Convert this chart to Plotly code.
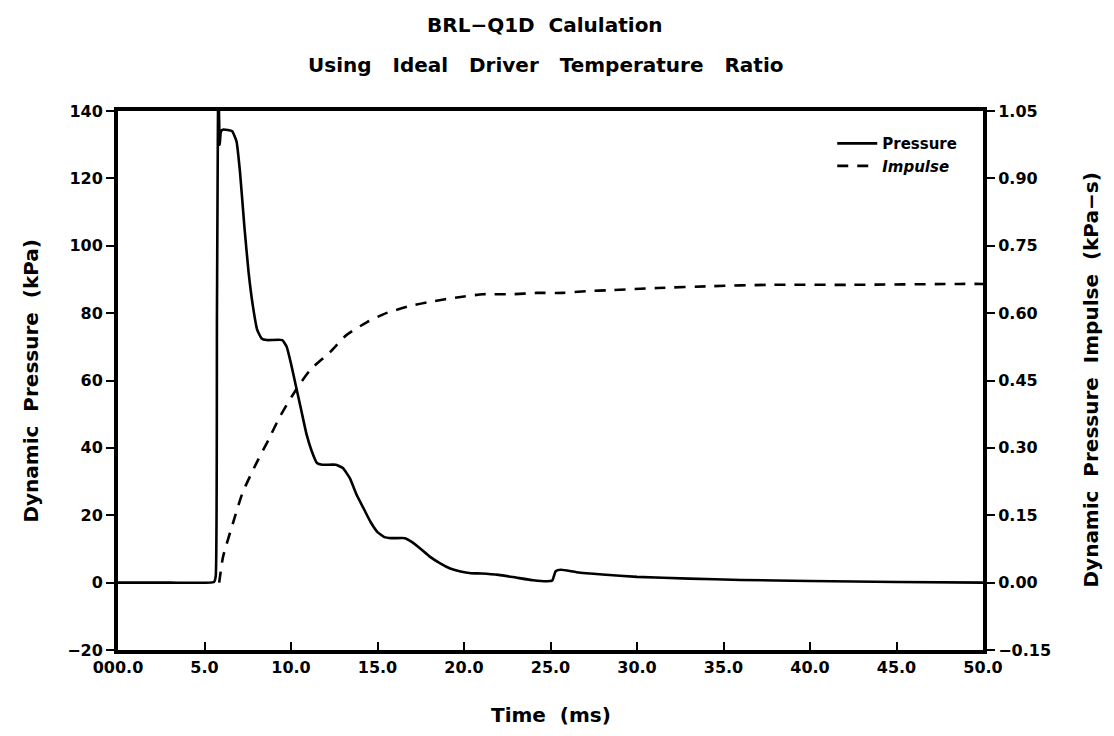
import plotly.graph_objects as go

# Dynamic pressure history (kPa) vs time (ms)
time_p = [0.0, 3.0, 5.55, 5.65, 5.72, 5.8, 5.88, 5.95, 6.1, 6.6, 6.85, 7.05, 7.3, 7.55,
          7.8, 8.05, 8.3, 8.6, 9.5, 9.75, 10.0, 10.3, 10.6, 10.9, 11.2, 11.5, 11.8,
          12.6, 13.0, 13.4, 13.8, 14.2, 14.6, 15.0, 15.4, 15.8, 16.6, 17.0, 17.5,
          18.0, 18.6, 19.2, 19.8, 20.4, 21.0, 22.0, 23.0, 24.0, 24.8, 25.1, 25.3,
          25.6, 26.5, 28.0, 30.0, 33.0, 36.0, 40.0, 45.0, 50.0]
pressure = [0.0, 0.0, 0.2, 2.0, 80.0, 150.0, 130.0, 134.0, 134.5, 134.0, 131.0, 122.0,
            106.0, 92.0, 82.0, 75.0, 72.5, 72.0, 72.0, 70.0, 65.0, 58.0, 51.0, 44.0,
            39.0, 35.5, 35.0, 35.0, 34.0, 31.0, 26.0, 22.0, 18.0, 15.0, 13.5, 13.2,
            13.2, 12.0, 10.0, 7.8, 5.8, 4.2, 3.3, 2.8, 2.7, 2.3, 1.5, 0.7, 0.4, 0.6,
            3.4, 3.8, 3.1, 2.4, 1.7, 1.2, 0.8, 0.5, 0.2, 0.0]

# Dynamic pressure impulse (kPa-s) vs time (ms)
time_i = [5.85, 6.07, 6.65, 7.2, 8.0, 8.7, 9.35, 10.3, 11.1, 12.25, 13.2, 14.4, 15.5,
          16.9, 18.0, 19.8, 21.1, 22.7, 24.2, 25.7, 27.1, 28.4, 31.2, 34.3, 37.6,
          42.4, 48.6, 50.0]
impulse = [0.0, 0.057, 0.133, 0.200, 0.266, 0.318, 0.369, 0.430, 0.473, 0.513, 0.551,
           0.580, 0.600, 0.616, 0.625, 0.636, 0.642, 0.642, 0.645, 0.645, 0.649, 0.651,
           0.656, 0.660, 0.663, 0.663, 0.665, 0.665]

x_ticks = [0, 5, 10, 15, 20, 25, 30, 35, 40, 45, 50]
x_tick_text = ["000.0", "5.0", "10.0", "15.0", "20.0", "25.0", "30.0", "35.0",
               "40.0", "45.0", "50.0"]
y_ticks = [-20, 0, 20, 40, 60, 80, 100, 120, 140]
y_tick_text = ["\u221220", "0", "20", "40", "60", "80", "100", "120", "140"]
y2_ticks = [-0.15, 0.0, 0.15, 0.30, 0.45, 0.60, 0.75, 0.90, 1.05]
y2_tick_text = ["\u22120.15", "0.00", "0.15", "0.30", "0.45", "0.60", "0.75", "0.90", "1.05"]

FONT = "DejaVu Sans"


def spaced(s, n=2):
    return s.replace(" ", "\u00a0" * n)


tick_font = dict(family=FONT, size=16, color="black", weight="bold")
label_font = dict(family=FONT, size=20, color="black", weight="bold")

fig = go.Figure()
fig.add_trace(go.Scatter(
    x=time_p, y=pressure, mode="lines", name="Pressure",
    line=dict(color="black", width=2.6, shape="spline", smoothing=0.4),
))
fig.add_trace(go.Scatter(
    x=time_i, y=impulse, mode="lines", name="<i>Impulse</i>", yaxis="y2",
    line=dict(color="black", width=2.6, dash="11px,9px", shape="spline", smoothing=0.6),
))

axis_common = dict(
    ticklen=8, tickwidth=2, tickcolor="black",
    showline=True, linewidth=4, linecolor="black",
    showgrid=False, zeroline=False, tickfont=tick_font,
)

fig.update_layout(
    width=1114, height=736,
    margin=dict(l=118, r=131, t=111, b=86),
    paper_bgcolor="white", plot_bgcolor="white",
    font=dict(family=FONT, color="black"),
    showlegend=True,
    xaxis=dict(range=[0, 50], tickvals=x_ticks, ticktext=x_tick_text,
               ticks="inside", mirror=True, **axis_common),
    yaxis=dict(range=[-20, 140], tickvals=y_ticks, ticktext=y_tick_text,
               ticks="outside", **axis_common),
    yaxis2=dict(range=[-0.15, 1.05], tickvals=y2_ticks, ticktext=y2_tick_text,
                overlaying="y", side="right", ticks="outside", **axis_common),
    legend=dict(
        x=0.976, y=0.97, xanchor="right", yanchor="top",
        bgcolor="rgba(0,0,0,0)", font=dict(family=FONT, size=15, weight="bold"),
        itemwidth=40, tracegroupgap=4,
    ),
    annotations=[
        dict(text=spaced("BRL\u2212Q1D Calulation"), x=0.4937, y=1.1596,
             xref="paper", yref="paper", showarrow=False, yanchor="middle",
             font=label_font),
        dict(text=spaced("Using Ideal Driver Temperature Ratio", 3), x=0.4937, y=1.0853,
             xref="paper", yref="paper", showarrow=False, yanchor="middle",
             font=label_font),
        dict(text=spaced("Time (ms)"), x=0.5, y=-0.1206, xref="paper", yref="paper",
             showarrow=False, yanchor="middle", font=label_font),
        dict(text=spaced("Dynamic Pressure (kPa)"), x=-0.1017, y=0.5,
             xref="paper", yref="paper", showarrow=False, textangle=-90,
             xanchor="center", yanchor="middle", font=label_font),
        dict(text=spaced("Dynamic Pressure Impulse (kPa\u2212s)"), x=1.1237, y=0.5,
             xref="paper", yref="paper", showarrow=False, textangle=-90,
             xanchor="center", yanchor="middle", font=label_font),
    ],
)

fig.write_html("out.html")
